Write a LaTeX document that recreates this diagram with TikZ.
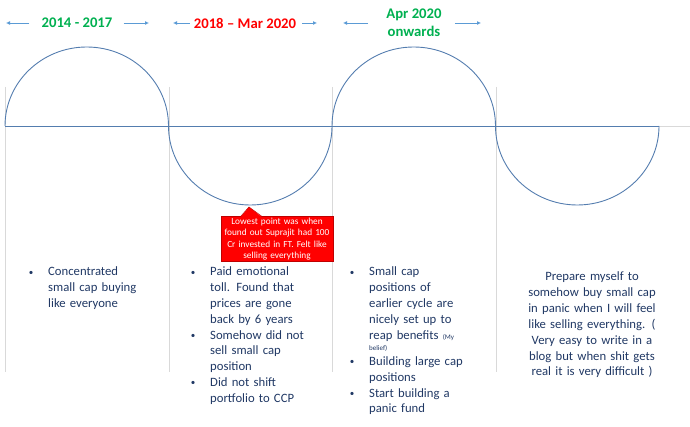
\documentclass[tikz,border=0pt]{standalone}
\usepackage{fontspec}
\setmainfont{Carlito}
\usetikzlibrary{positioning,arrows.meta,calc}
\definecolor{wave}{RGB}{84,125,175}
\definecolor{span}{RGB}{91,155,213}
\definecolor{grid}{RGB}{217,217,217}
\definecolor{ink}{RGB}{32,56,100}
\definecolor{upgreen}{RGB}{0,176,80}
\definecolor{downred}{RGB}{255,0,0}
\definecolor{noteedge}{RGB}{192,0,0}
\tikzset{
  % --- phase labels above the wave ------------------------------------
  phase/.style    ={font=\bfseries\fontsize{14.7}{17.7}\selectfont, align=center, inner sep=0},
  up/.style       ={phase, text=upgreen},
  down/.style     ={phase, text=downred},
  spanarrow/.style={-{Latex[length=4pt,width=4pt]}, line width=0.8pt, draw=span},
  % --- wave and guides --------------------------------------------------
  waveline/.style ={line width=0.9pt, draw=wave},
  guide/.style    ={line width=0.8pt, draw=grid},
  % --- text under the wave ----------------------------------------------
  notes/.style    ={font=\fontsize{12.7}{15.8}\selectfont, text=ink, align=left,
                    text width=130pt, inner sep=0, anchor=base west},
  plan/.style     ={notes, align=center, text width=170pt, anchor=base},
  callout/.style  ={fill=downred, draw=noteedge, line width=0.5pt, text=white,
                    font=\fontsize{9.3}{11.6}\selectfont, align=center, text width=110pt,
                    minimum width=112pt, minimum height=45pt, inner sep=0},
}
% bullet point with hanging indent (lines split with \newline)
\newcommand{\bp}[1]{\noindent\hangindent=17pt\hangafter=0%
  \llap{\raisebox{0.8pt}{\fontsize{9}{9}\selectfont\textbullet}\hspace{14.8pt}}#1\par}

\begin{document}
\begin{tikzpicture}[x=1pt,y=-1pt]
  \useasboundingbox (0,0) rectangle (690,427);

  % ===================== guides + axis =====================
  \foreach \x in {5,169,332,496} \draw[guide] (\x,87) -- (\x,372);
  \coordinate (w0) at (5,126);
  \coordinate (wend) at (659,126);
  \coordinate (edge) at (690,126);
  \draw[guide] (w0) -- (edge);
  \draw[waveline] (w0) -- (wend);

  % ===================== wave =====================
  \draw[waveline] (w0)
    arc[start angle=180, end angle=0,   x radius=81.75pt, y radius=79pt]
    arc[start angle=180, end angle=360, x radius=81.75pt, y radius=79pt]
    arc[start angle=180, end angle=0,   x radius=81.75pt, y radius=79pt]
    arc[start angle=180, end angle=360, x radius=81.75pt, y radius=79pt];

  % ===================== phase labels =====================
  \node[up]   (p1) at (77,23)  {2014 - 2017};
  \node[down] (p2) at (245,23) {2018 -- Mar 2020};
  \node[up]   (p3) at (414,23) {Apr 2020\\onwards};
  \coordinate (p1l) at (6,23);   \coordinate (p1r) at (149,23);
  \coordinate (p2l) at (173,23); \coordinate (p2r) at (317,23);
  \coordinate (p3l) at (343,23); \coordinate (p3r) at (481,23);
  \draw[spanarrow] ($(p1.west)+(-12,0)$) -- (p1l);
  \draw[spanarrow] ($(p1.east)+(11,0)$)  -- (p1r);
  \draw[spanarrow] ($(p2.west)+(-4,0)$)  -- (p2l);
  \draw[spanarrow] ($(p2.east)+(6,0)$)   -- (p2r);
  \draw[spanarrow] ($(p3.west)+(-18,0)$) -- (p3l);
  \draw[spanarrow] ($(p3.east)+(13,0)$)  -- (p3r);

  % ===================== callout at the trough =====================
  \node[callout] (low) at (277,239)
    {Lowest point was when\\found out Suprajit had 100\\Cr invested in FT. Felt like\\selling everything};
  \coordinate (trough) at (249,207);
  \fill[downred] ($(low.north west)+(20,0.6)$) -- (trough) -- ($(low.north west)+(41,0.6)$) -- cycle;
  \draw[noteedge, line width=0.5pt] ($(low.north west)+(20,0)$) -- (trough) -- ($(low.north west)+(41,0)$);

  % ===================== notes per phase =====================
  \node[notes] (n1) at (31,276)
    {\bp{Concentrated\newline small cap buying\newline like everyone}};
  \node[notes] (n2) at (193,276)
    {\bp{Paid emotional\newline toll. Found that\newline prices are gone\newline back by 6 years}
     \bp{Somehow did not\newline sell small cap\newline position}
     \bp{Did not shift\newline portfolio to CCP}};
  \node[notes] (n3) at (352,276)
    {\bp{Small cap\newline positions of\newline earlier cycle are\newline nicely set up to\newline reap benefits {\fontsize{7}{8}\selectfont (My}\vspace{-4pt}\newline {\fontsize{7}{8}\selectfont belief)}}
     \vspace{-1.3pt}
     \bp{Building large cap\newline positions}
     \bp{Start building a\newline panic fund}};
  \node[plan] (n4) at (592,281)
    {Prepare myself to\\somehow buy small cap\\in panic when I will feel\\like selling everything. (\\Very easy to write in a\\blog but when shit gets\\real it is very difficult )};

\end{tikzpicture}
\end{document}
